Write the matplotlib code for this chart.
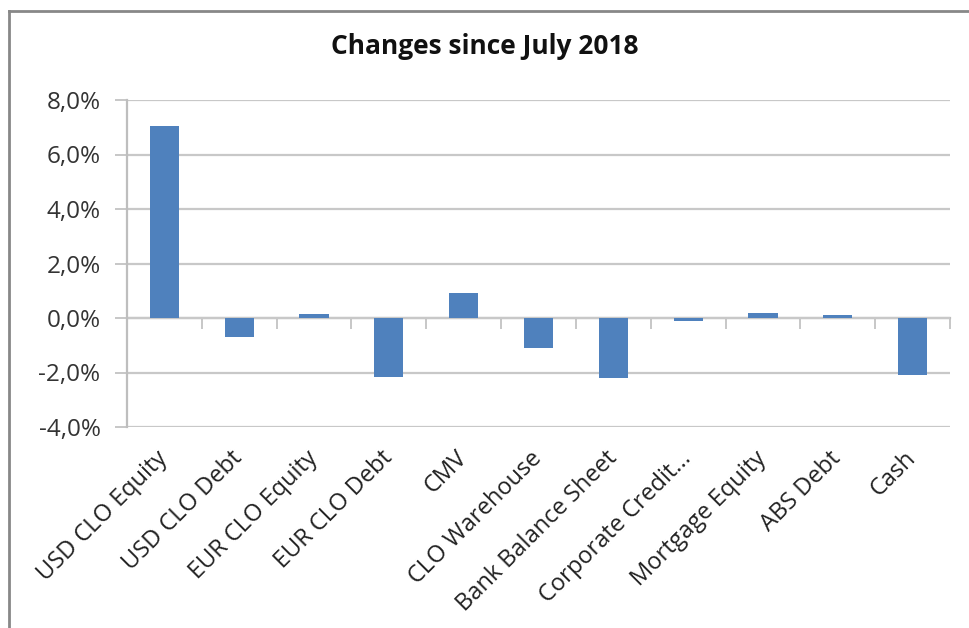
import matplotlib
matplotlib.use("Agg")
import matplotlib.pyplot as plt
from matplotlib.ticker import FuncFormatter, FixedLocator
from matplotlib.lines import Line2D

categories = ["USD CLO Equity", "USD CLO Debt", "EUR CLO Equity", "EUR CLO Debt", "CMV",
              "CLO Warehouse", "Bank Balance Sheet", "Corporate Credit...", "Mortgage Equity",
              "ABS Debt", "Cash"]
values = [7.03, -0.68, 0.14, -2.17, 0.90, -1.10, -2.20, -0.10, 0.20, 0.10, -2.08]
yticks = [-4, -2, 0, 2, 4, 6, 8]
title = "Changes since July 2018"

plt.rcParams['font.family'] = ['Open Sans', 'DejaVu Sans']

fig = plt.figure(figsize=(9.69, 6.28), dpi=100)
W, H = 969, 628
ax = fig.add_axes([127 / W, 1 - 427 / H, (950 - 127) / W, (427 - 100) / H])

x = list(range(len(categories)))
ax.bar(x, values, width=0.39, color="#4F81BD", zorder=3)
ax.set_xlim(-0.5, len(categories) - 0.5)
ax.set_ylim(-4, 8)
ax.set_yticks(yticks)
ax.yaxis.set_major_formatter(FuncFormatter(lambda v, p: f"{v:.1f}%".replace(".", ",")))
ax.grid(axis="y", color="#C8C8C8", linewidth=1.6, zorder=0)
for s in ["top", "right", "bottom"]:
    ax.spines[s].set_visible(False)
ax.spines["left"].set_color("#BEBEBE")
ax.spines["left"].set_linewidth(1.6)
ax.tick_params(axis="y", length=9, width=1.2, color="#BEBEBE", labelsize=17.5,
               labelcolor="#333333", pad=10)
ax.set_xticks(x)
ax.set_xticklabels(categories, rotation=45, ha="right", va="center",
                   rotation_mode="anchor", fontsize=17, color="#222222")
ax.tick_params(axis="x", length=0, pad=20)

# zero axis with category-boundary ticks
sec = ax.secondary_xaxis((0 - (-4)) / 12)
sec.spines["bottom"].set_color("#BEBEBE")
sec.spines["bottom"].set_linewidth(1.6)
sec.xaxis.set_major_locator(FixedLocator([i + 0.5 for i in range(len(categories))]))
sec.tick_params(axis="x", length=8, width=1.2, color="#BEBEBE", labelbottom=False)

fig.text(0.5, 1 - 47 / H, title, ha="center", va="center", fontsize=19,
         fontweight="bold", color="#111111")

# chart area border (left and top visible)
fig.add_artist(Line2D([9 / W, 9 / W], [0, 1 - 11 / H], transform=fig.transFigure,
                      color="#888888", linewidth=2))
fig.add_artist(Line2D([9 / W, 1], [1 - 11 / H, 1 - 11 / H], transform=fig.transFigure,
                      color="#888888", linewidth=2))

fig.savefig("out.png", dpi=100)
